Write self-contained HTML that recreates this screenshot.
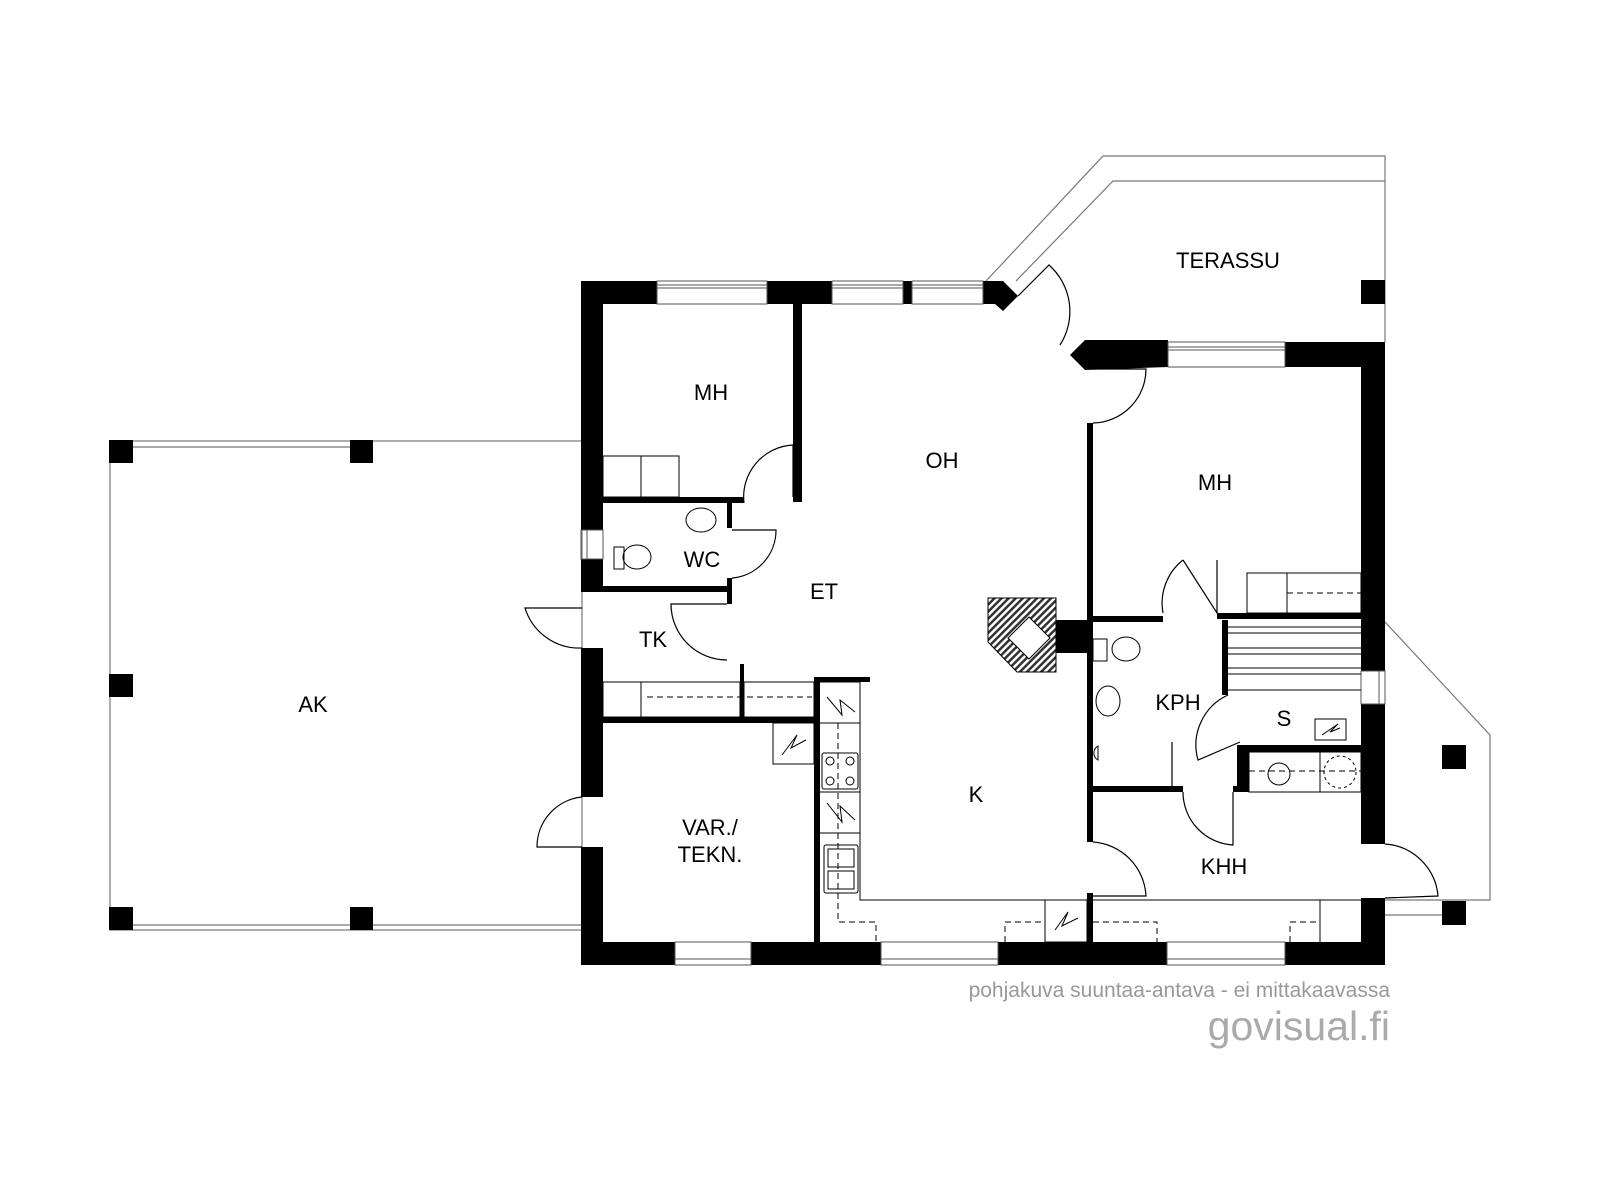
<!DOCTYPE html>
<html><head><meta charset="utf-8"><style>
html,body{margin:0;padding:0;background:#fff;width:1600px;height:1200px;overflow:hidden}
svg{display:block}
text{font-family:"Liberation Sans",sans-serif}
</style></head><body>
<svg width="1600" height="1200" viewBox="0 0 1600 1200" xmlns="http://www.w3.org/2000/svg">
<g fill="none" stroke="#777" stroke-width="1.2">
<rect x="110" y="441" width="472" height="489"/>
<line x1="133" y1="447" x2="350" y2="447"/>
<line x1="133" y1="925" x2="350" y2="925"/><line x1="373" y1="925" x2="582" y2="925"/>
<polyline points="986,281 1103,156 1385,156 1385,342"/>
<polyline points="1016,281 1113,181 1385,181"/>
<polyline points="1385,622 1490,735 1490,900 1385,900"/>
<line x1="1385" y1="915" x2="1442" y2="915"/>
</g>
<g fill="#000">
<rect x="109" y="440" width="24" height="23"/><rect x="350" y="440" width="23" height="23"/>
<rect x="109" y="674" width="24" height="23"/>
<rect x="109" y="907" width="24" height="23"/><rect x="350" y="907" width="23" height="23"/>
<rect x="1361" y="280" width="24" height="24"/>
<rect x="1442" y="745" width="24" height="24"/><rect x="1442" y="901" width="24" height="24"/>
<rect x="581" y="281" width="76" height="23"/>
<rect x="767" y="281" width="65" height="23"/>
<rect x="903" y="281" width="9" height="23"/>
<rect x="983" y="281" width="20" height="23"/>
<polygon points="1003,281 1018,296 1003,311 995,304 995,281"/>
<rect x="581" y="281" width="22" height="249"/>
<rect x="581" y="559" width="22" height="33"/>
<rect x="581" y="648" width="22" height="149"/>
<rect x="581" y="847" width="22" height="118"/>
<rect x="581" y="942" width="94" height="23"/>
<rect x="751" y="942" width="130" height="23"/>
<rect x="998" y="942" width="169" height="23"/>
<rect x="1285" y="942" width="100" height="23"/>
<polygon points="1070,355 1085,340 1168,340 1168,367 1085,370"/>
<rect x="1285" y="342" width="100" height="25"/>
<rect x="1361" y="342" width="24" height="329"/>
<rect x="1361" y="704" width="24" height="140"/>
<rect x="1361" y="898" width="24" height="67"/>
<rect x="793" y="304" width="9" height="198"/>
<rect x="603" y="497" width="141" height="6"/>
<rect x="727" y="503" width="5" height="25"/>
<rect x="727" y="578" width="5" height="26"/>
<rect x="603" y="586" width="127" height="6"/>
<rect x="603" y="717" width="214" height="6"/>
<rect x="740" y="664" width="4" height="53"/>
<rect x="814" y="677" width="6" height="265"/>
<rect x="814" y="677" width="56" height="5"/>
<rect x="1087" y="423" width="6" height="193"/>
<rect x="1087" y="616" width="76" height="6"/>
<rect x="1217" y="613" width="144" height="6"/>
<rect x="1087" y="616" width="6" height="226"/>
<rect x="1087" y="893" width="6" height="49"/>
<rect x="1087" y="786" width="96" height="6"/>
<rect x="1222" y="620" width="6" height="75"/>
<rect x="1249" y="745" width="112" height="7"/>
<rect x="1237" y="745" width="12" height="47"/>
<rect x="1233" y="786" width="8" height="6"/>
<rect x="1056" y="620" width="31" height="33"/>
</g>
<g fill="none" stroke="#555" stroke-width="1">
<rect x="657" y="281" width="110" height="23"/><line x1="657" y1="285" x2="767" y2="285"/><line x1="657" y1="288" x2="767" y2="288"/>
<rect x="832" y="281" width="71" height="23"/><line x1="832" y1="285" x2="903" y2="285"/><line x1="832" y1="288" x2="903" y2="288"/>
<rect x="912" y="281" width="71" height="23"/><line x1="912" y1="285" x2="983" y2="285"/><line x1="912" y1="288" x2="983" y2="288"/>
<rect x="1168" y="342" width="117" height="25"/><line x1="1168" y1="347" x2="1285" y2="347"/><line x1="1168" y1="350" x2="1285" y2="350"/>
<rect x="675" y="942" width="76" height="23"/><line x1="675" y1="959" x2="751" y2="959"/>
<rect x="881" y="942" width="117" height="23"/><line x1="881" y1="959" x2="998" y2="959"/>
<rect x="1167" y="942" width="118" height="23"/><line x1="1167" y1="959" x2="1285" y2="959"/>
<rect x="581" y="530" width="22" height="29"/><line x1="587" y1="530" x2="587" y2="559"/>
<rect x="1361" y="671" width="24" height="33"/><line x1="1379" y1="671" x2="1379" y2="704"/>
</g>
<g fill="none" stroke="#000" stroke-width="1.2">
<path d="M582 608 L525 608 A57 57 0 0 0 582 648"/>
<path d="M582 797 A50 50 0 0 0 537 847 L582 847"/>
<path d="M744 503 A52 52 0 0 1 793 445 L793 497"/>
<path d="M732 530 L776 530 A48 48 0 0 1 732 578"/>
<path d="M727 604 L671 604 A56 56 0 0 0 727 660"/>
<path d="M1018 296 L1049 265 A62 62 0 0 1 1060 345"/>
<path d="M1093 369 L1146 369 A54 54 0 0 1 1093 423"/>
<path d="M1183 560 A55 55 0 0 0 1163 613 M1217 560 L1217 613 L1183 560"/>
<path d="M1228 695 A55 55 0 0 0 1198 760 L1240 742"/>
<path d="M1183 792 A53 53 0 0 0 1233 845 L1233 792"/>
<path d="M1093 842 A57 57 0 0 1 1146 896 L1093 896"/>
<path d="M1385 844 A57 57 0 0 1 1438 896 L1385 898"/>
<line x1="1172" y1="742" x2="1172" y2="786"/>
</g>
<g fill="none" stroke="#000" stroke-width="1">
<rect x="603" y="456" width="38" height="41"/><rect x="641" y="456" width="38" height="41"/>
<rect x="603" y="682" width="38" height="35"/><rect x="641" y="682" width="99" height="35"/>
<rect x="744" y="682" width="70" height="35"/>
<line x1="647" y1="697" x2="812" y2="697" stroke-dasharray="6,4"/>
<rect x="773" y="723" width="41" height="41"/>
<path d="M782 755 L797 735 L791 748 L806 740"/>
<path d="M820 682 L860 682 L860 900 L1087 900"/>
<line x1="820" y1="723" x2="860" y2="723"/>
<line x1="820" y1="792" x2="860" y2="792"/><line x1="820" y1="833" x2="860" y2="833"/>
<path d="M838 723 L838 922 L876 922 L876 942" stroke-dasharray="6,4"/>
<path d="M827 697 L842 715 L840 700 L855 712"/>
<path d="M827 803 L842 822 L840 806 L855 820"/>
<rect x="822" y="753" width="36" height="36" rx="2"/>
<circle cx="830" cy="761" r="4"/><circle cx="850" cy="761" r="4"/><circle cx="830" cy="781" r="4"/><circle cx="850" cy="781" r="4"/>
<rect x="824" y="845" width="34" height="48" rx="2"/><rect x="828" y="849" width="26" height="18"/><rect x="828" y="871" width="26" height="18"/>
<rect x="1045" y="900" width="42" height="42"/>
<path d="M1055 930 L1068 912 L1062 926 L1078 918"/>
<path d="M1005 942 L1005 922 L1045 922" stroke-dasharray="6,4"/>
<path d="M1093 922 L1157 922 L1157 942" stroke-dasharray="6,4"/>
<path d="M1290 942 L1290 922 L1320 922" stroke-dasharray="6,4"/>
<line x1="1320" y1="900" x2="1320" y2="942"/><line x1="1093" y1="900" x2="1361" y2="900"/>
<rect x="1247" y="573" width="40" height="40"/><rect x="1287" y="573" width="74" height="40"/>
<line x1="1287" y1="593" x2="1361" y2="593" stroke-dasharray="6,4"/>
<line x1="1228" y1="627" x2="1361" y2="627"/><line x1="1228" y1="633" x2="1361" y2="633"/>
<line x1="1228" y1="648" x2="1361" y2="648"/><line x1="1228" y1="654" x2="1361" y2="654"/>
<line x1="1228" y1="668" x2="1361" y2="668"/><line x1="1228" y1="674" x2="1361" y2="674"/>
<line x1="1228" y1="690" x2="1361" y2="690"/>
<rect x="1315" y="719" width="31" height="21"/><path d="M1322 735 L1338 724 L1330 732 L1340 728"/>
<rect x="1249" y="752" width="112" height="40"/><line x1="1320" y1="752" x2="1320" y2="792"/>
<circle cx="1279" cy="774" r="11"/><circle cx="1340" cy="772" r="16" stroke-dasharray="3,3"/>
<line x1="1249" y1="771" x2="1361" y2="771" stroke-dasharray="6,4"/>
<ellipse cx="701" cy="520" rx="15" ry="12"/>
<ellipse cx="637" cy="557" rx="14" ry="12"/><rect x="614" y="547" width="10" height="22"/>
<ellipse cx="1126" cy="649" rx="14" ry="12"/><rect x="1093" y="639" width="14" height="22"/>
<ellipse cx="1108" cy="701" rx="12" ry="15"/>
<path d="M1098 760 A8 8 0 0 1 1098 746 Z"/>
</g>
<defs><pattern id="h" width="5" height="5" patternUnits="userSpaceOnUse" patternTransform="rotate(45)"><rect width="5" height="5" fill="#fff"/><rect width="2.5" height="5" fill="#333"/></pattern></defs>
<polygon points="988,598 1056,598 1056,672 1017,672 988,642" fill="url(#h)" stroke="#000"/>
<polygon points="1008,638 1029,617 1050,638 1029,659" fill="#fff" stroke="#000"/>
<g font-size="22" fill="#000" text-anchor="middle">
<text x="1228" y="268">TERASSU</text>
<text x="711" y="400">MH</text>
<text x="942" y="468">OH</text>
<text x="1215" y="490">MH</text>
<text x="702" y="567">WC</text>
<text x="824" y="599">ET</text>
<text x="653" y="647">TK</text>
<text x="313" y="712">AK</text>
<text x="1178" y="710">KPH</text>
<text x="1284" y="726">S</text>
<text x="976" y="802">K</text>
<text x="710" y="835">VAR./</text>
<text x="710" y="862">TEKN.</text>
<text x="1224" y="874">KHH</text>
</g>
<text x="1390" y="997" font-size="21" fill="#999" text-anchor="end">pohjakuva suuntaa-antava - ei mittakaavassa</text>
<text x="1390" y="1040" font-size="41" fill="#aaa" text-anchor="end">govisual.fi</text>
</svg>
</body></html>
